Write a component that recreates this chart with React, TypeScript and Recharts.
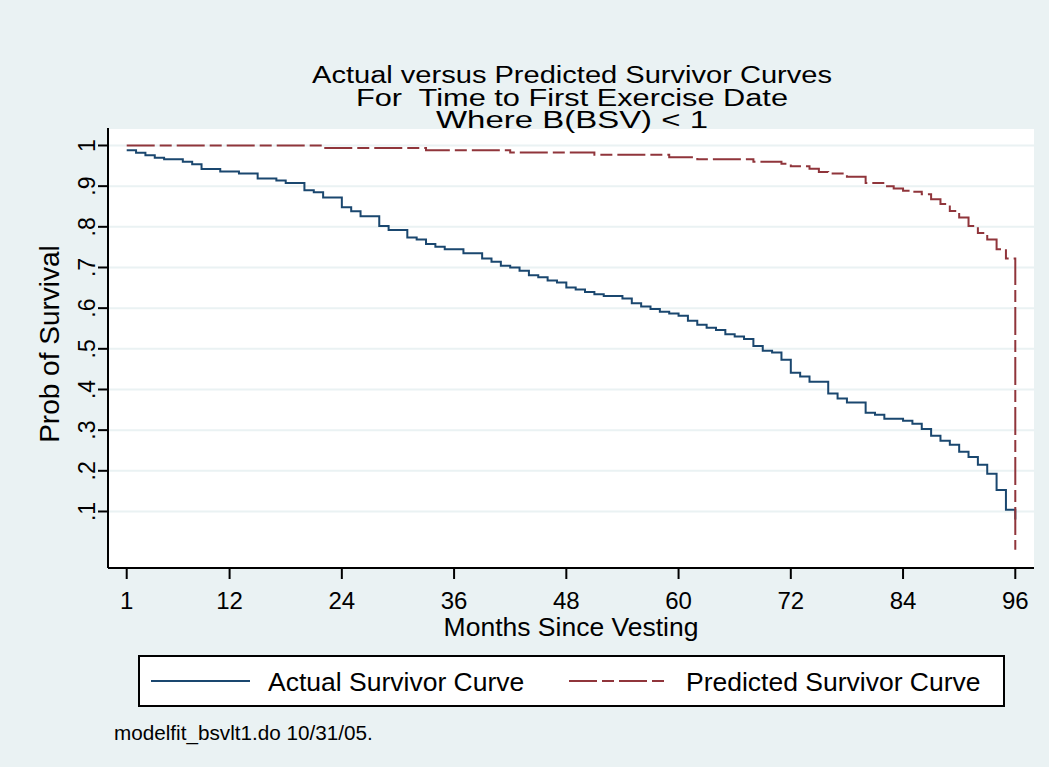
import React from 'react';
import { LineChart, Line, XAxis, YAxis, CartesianGrid } from 'recharts';

const FONT = '"Liberation Sans", Arial, Helvetica, sans-serif';

const months = [
  1, 2, 3, 4, 5, 6, 7, 8, 9, 10, 11, 12, 13, 14, 15, 16, 17, 18, 19, 20, 21, 22, 23, 24,
  25, 26, 27, 28, 29, 30, 31, 32, 33, 34, 35, 36, 37, 38, 39, 40, 41, 42, 43, 44, 45, 46, 47, 48,
  49, 50, 51, 52, 53, 54, 55, 56, 57, 58, 59, 60, 61, 62, 63, 64, 65, 66, 67, 68, 69, 70, 71, 72,
  73, 74, 75, 76, 77, 78, 79, 80, 81, 82, 83, 84, 85, 86, 87, 88, 89, 90, 91, 92, 93, 94, 95, 96,
];

// Kaplan-Meier style (value after the step at each month)
const actual = [
  0.988, 0.982, 0.976, 0.970, 0.966, 0.966, 0.960, 0.954, 0.942, 0.942, 0.936, 0.936,
  0.931, 0.931, 0.919, 0.919, 0.914, 0.908, 0.908, 0.890, 0.885, 0.872, 0.872, 0.848,
  0.838, 0.826, 0.826, 0.802, 0.792, 0.792, 0.774, 0.769, 0.758, 0.751, 0.745, 0.745,
  0.735, 0.735, 0.722, 0.714, 0.704, 0.700, 0.692, 0.681, 0.676, 0.668, 0.663, 0.651,
  0.646, 0.640, 0.634, 0.630, 0.630, 0.624, 0.612, 0.604, 0.598, 0.591, 0.587, 0.581,
  0.569, 0.559, 0.552, 0.546, 0.536, 0.530, 0.524, 0.507, 0.495, 0.491, 0.473, 0.441,
  0.432, 0.419, 0.419, 0.390, 0.378, 0.368, 0.368, 0.343, 0.338, 0.328, 0.328, 0.323,
  0.316, 0.303, 0.286, 0.274, 0.264, 0.247, 0.234, 0.215, 0.193, 0.153, 0.104, 0.080,
];

const predicted = [
  1.000, 1.000, 1.000, 1.000, 1.000, 1.000, 1.000, 1.000, 1.000, 1.000, 1.000, 1.000,
  1.000, 1.000, 1.000, 1.000, 1.000, 1.000, 1.000, 1.000, 1.000, 0.994, 0.994, 0.994,
  0.994, 0.994, 0.994, 0.994, 0.994, 0.994, 0.994, 0.994, 0.988, 0.988, 0.988, 0.988,
  0.988, 0.988, 0.988, 0.988, 0.988, 0.983, 0.983, 0.983, 0.983, 0.983, 0.983, 0.983,
  0.983, 0.983, 0.977, 0.977, 0.977, 0.977, 0.977, 0.977, 0.977, 0.977, 0.971, 0.971,
  0.971, 0.966, 0.966, 0.966, 0.966, 0.966, 0.966, 0.960, 0.960, 0.960, 0.955, 0.949,
  0.949, 0.943, 0.935, 0.931, 0.931, 0.923, 0.923, 0.908, 0.908, 0.900, 0.894, 0.889,
  0.886, 0.880, 0.868, 0.856, 0.839, 0.823, 0.802, 0.785, 0.769, 0.745, 0.722, 0.006,
];

const xTicks = [1, 12, 24, 36, 48, 60, 72, 84, 96];
const yTicks = [0.1, 0.2, 0.3, 0.4, 0.5, 0.6, 0.7, 0.8, 0.9, 1];

const titleLines = [
  'Actual versus Predicted Survivor Curves',
  'For  Time to First Exercise Date',
  'Where B(BSV) < 1',
];
// rendered widths in the original (Stata spaces its glyphs wider than Arial)
const titleWidths = [520, 432, 272];

const series = [
  { key: 'actual', name: 'Actual Survivor Curve', color: '#1A476F', dash: undefined as string | undefined },
  { key: 'predicted', name: 'Predicted Survivor Curve', color: '#90353B', dash: '28 5 12 5' },
];

const data = months.map((m, i) => ({ month: m, actual: actual[i], predicted: predicted[i] }));

const fmtY = (v: number) => (v >= 1 ? '1' : v.toFixed(1).replace(/^0/, ''));

const XTick = ({ x, payload }: any) => (
  <text x={x} y={609} textAnchor="middle" fontSize={24} fontFamily={FONT} fill="#000">
    {payload.value}
  </text>
);

const YTick = ({ y, payload }: any) => (
  <text
    x={95}
    y={y}
    transform={`rotate(-90, 95, ${y})`}
    textAnchor="middle"
    fontSize={23}
    fontFamily={FONT}
    fill="#000"
  >
    {fmtY(payload.value)}
  </text>
);

export default function App() {
  return (
    <div style={{ position: 'relative', width: 1049, height: 767, background: '#EAF2F3' }}>
      <style>{'body{margin:0}'}</style>
      <LineChart
        width={1049}
        height={767}
        data={data}
        margin={{ top: 128, right: 15, bottom: 139, left: 48 }}
      >
        <CartesianGrid vertical={false} stroke="#EAF2F3" strokeWidth={2} fill="#ffffff" fillOpacity={1} />
        <XAxis
          dataKey="month"
          type="number"
          domain={[-1, 98]}
          ticks={xTicks}
          height={60}
          tickSize={11}
          axisLine={{ stroke: '#000', strokeWidth: 2 }}
          tickLine={{ stroke: '#000', strokeWidth: 2 }}
          tick={<XTick />}
          interval={0}
          allowDataOverflow
        />
        <YAxis
          type="number"
          domain={[-0.039, 1.043]}
          ticks={yTicks}
          width={60}
          tickSize={10}
          axisLine={{ stroke: '#000', strokeWidth: 2 }}
          tickLine={{ stroke: '#000', strokeWidth: 2 }}
          tick={<YTick />}
          interval={0}
          allowDataOverflow
        />
        {series.map((s) => (
          <Line
            key={s.key}
            type="stepAfter"
            dataKey={s.key}
            name={s.name}
            stroke={s.color}
            strokeWidth={2}
            strokeDasharray={s.dash}
            dot={false}
            activeDot={false}
            isAnimationActive={false}
          />
        ))}
      </LineChart>
      <svg
        width={1049}
        height={767}
        style={{ position: 'absolute', left: 0, top: 0, pointerEvents: 'none' }}
        fontFamily={FONT}
      >
        {titleLines.map((t, i) => (
          <text
            key={i}
            x={572}
            y={83 + i * 22.5}
            textAnchor="middle"
            fontSize={23}
            fill="#000"
            textLength={titleWidths[i]}
            lengthAdjust="spacingAndGlyphs"
            style={{ whiteSpace: 'pre' }}
          >
            {t}
          </text>
        ))}
        <text x={571} y={636} textAnchor="middle" fontSize={26.5} fill="#000">
          Months Since Vesting
        </text>
        <text x={59} y={344} transform="rotate(-90, 59, 344)" textAnchor="middle" fontSize={28} fill="#000">
          Prob of Survival
        </text>
        <rect x={139} y={656} width={865} height={50} fill="#fff" stroke="#000" strokeWidth={2} />
        <line x1={151} x2={250} y1={681} y2={681} stroke={series[0].color} strokeWidth={2} />
        <text x={268} y={691} fontSize={26.5} fill="#000">{series[0].name}</text>
        <line x1={569} x2={666} y1={681} y2={681} stroke={series[1].color} strokeWidth={2} strokeDasharray={series[1].dash} />
        <text x={686} y={691} fontSize={26.5} fill="#000">{series[1].name}</text>
        <text x={114} y={740} fontSize={20.7} fill="#000">modelfit_bsvlt1.do 10/31/05.</text>
      </svg>
    </div>
  );
}
